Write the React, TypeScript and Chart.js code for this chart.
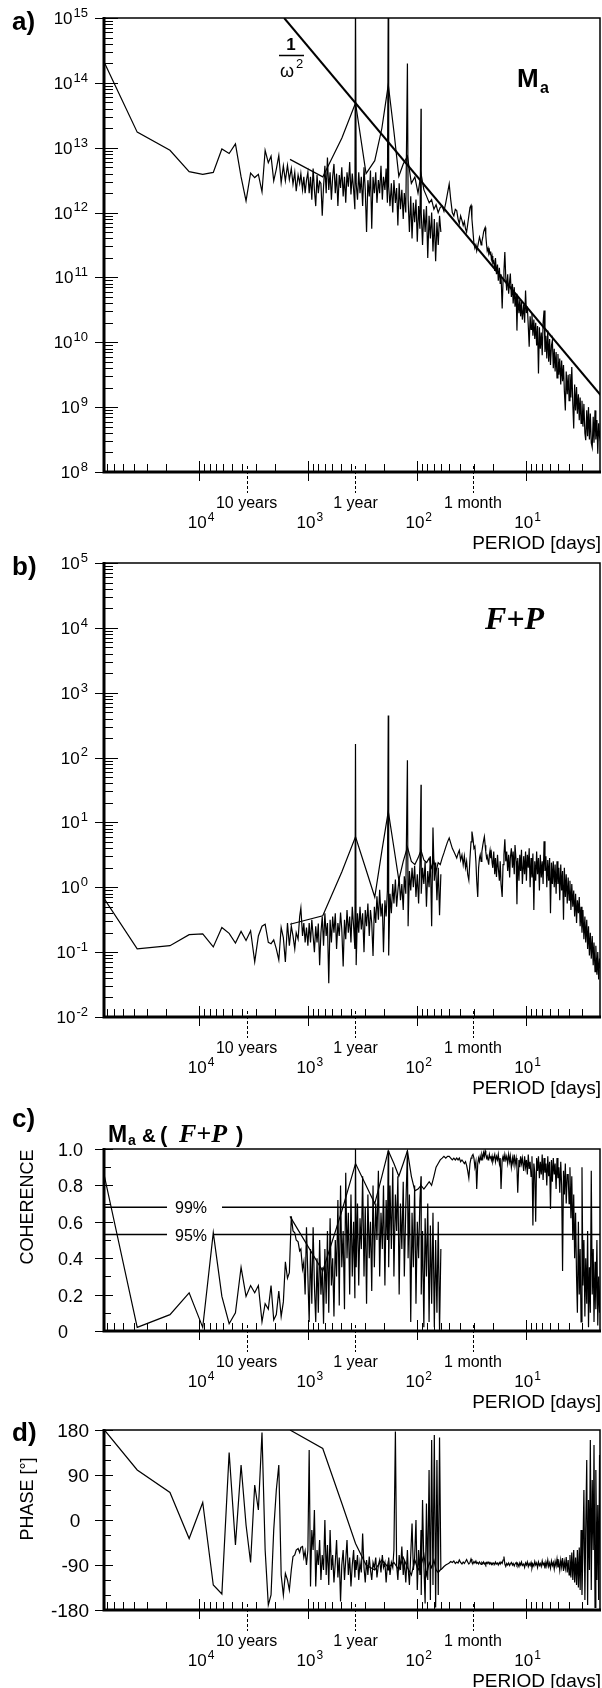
import React, { useEffect, useRef } from "react";
import { Chart, registerables } from "chart.js";

Chart.register(...registerables);

const PAGE_W = 602;
const PAGE_H = 1688;
const PLOT_LEFT = 104;
const PLOT_RIGHT = 600;
const PERIOD_MIN = 2.07;
const PERIOD_MAX = 74700;
const SANS = '"Liberation Sans", Arial, Helvetica, sans-serif';
const SERIF = '"Liberation Serif", "Times New Roman", Times, serif';

// ---------- period grids (days) ----------
const periodsHiSparse = [74000, 37000, 18500, 12330, 9250, 7400, 6170, 5290, 4630, 4110, 3700, 3360, 3080, 2850, 2640, 2470, 2310, 2180, 2060, 1950, 1850, 1760, 1680, 1610, 1540, 1480, 1420, 1370, 1320, 1280, 1230, 1190, 1160, 1120, 1090, 1060, 1030];
const periodsHiDense = [1000, 973, 946, 920, 895, 871, 847, 824, 802, 780, 759, 738, 718, 698, 679, 661, 643, 625, 608, 592, 576, 560, 545, 530, 515, 501, 488, 474, 461, 449, 437, 425, 413, 402, 391, 380, 370, 365.25, 360, 350, 341, 332, 323, 314, 305, 297, 289, 281, 273, 266, 259, 252, 245, 238, 232, 225, 219, 213, 207, 202, 196, 191, 186, 182.6, 181, 176, 171, 166, 162, 157, 153, 149, 145, 141, 137, 133, 130, 126, 121.75, 120, 116.7, 113.5, 110.4, 107.4, 104.5, 101.6, 98.8, 96.1, 93.5, 91.3, 90.9, 88.4, 86, 83.7, 81.4, 79.2, 77, 74.9, 72.9, 70.9, 68.9, 67, 65.2, 63.4, 61.7, 60];
const periodsLoA = [1460, 730, 487, 365, 292, 243, 209, 182.5, 162, 146, 133, 121.7, 112, 104, 97.3, 91.3, 85.9, 81.1, 76.8, 73, 69.5, 66.4, 63.5, 60.8];
const periodsLoB = [58.4, 56.2, 54.1, 52.1, 50.3, 48.7, 47.1, 45.6, 44.2, 42.9, 41.7, 40.6, 39.5, 38.4, 37.4, 36.5, 35.6, 34.8, 34.0, 33.2, 32.4, 31.7, 31.1, 30.4, 29.8, 29.2, 28.6, 28.1, 27.5, 27.0, 26.5, 26.1, 25.6, 25.2, 24.7, 24.3, 23.9, 23.5, 23.2, 22.8, 22.5, 22.1, 21.8, 21.5, 21.2, 20.9, 20.6, 20.3, 20.0];
const periodsLoC = [19.6, 19.2, 18.9, 18.5, 18.1, 17.8, 17.4, 17.1, 16.8, 16.4, 16.1, 15.8, 15.5, 15.2, 14.9, 14.6, 14.3, 14.0, 13.8, 13.5, 13.2, 13.0, 12.7, 12.5, 12.2, 12.0, 11.8, 11.5, 11.3, 11.1, 10.9, 10.7, 10.4, 10.2, 10.0, 9.82, 9.63, 9.44, 9.26, 9.08, 8.90, 8.73, 8.56, 8.39, 8.23, 8.07, 7.91, 7.76, 7.61, 7.46, 7.32, 7.17, 7.03, 6.90, 6.76, 6.63, 6.50, 6.38, 6.25, 6.13, 6.01, 5.90, 5.78, 5.67, 5.56, 5.45, 5.35, 5.24, 5.14, 5.04, 4.94, 4.85, 4.75, 4.66, 4.57, 4.48, 4.40, 4.31, 4.23, 4.14, 4.06, 3.98, 3.91, 3.83, 3.76, 3.68, 3.61, 3.54, 3.47, 3.40, 3.34, 3.27, 3.21, 3.15, 3.09, 3.03, 2.97, 2.91, 2.85, 2.80, 2.74, 2.69, 2.64, 2.59, 2.54, 2.49, 2.44, 2.39, 2.35, 2.30, 2.26, 2.21, 2.17, 2.13, 2.09, 2.05];

// ---------- panel a: M_a power (log10 of value) ----------
const maHiSparseExp = [14.31, 13.24, 12.96, 12.63, 12.59, 12.62, 12.98, 12.91, 13.06, 12.55, 12.18, 12.61, 12.54, 12.59, 12.32, 12.96, 12.77, 12.87, 12.49, 12.67, 12.88, 12.46, 12.72, 12.49, 12.73, 12.51, 12.68, 12.44, 12.62, 12.33, 12.58, 12.45, 12.60, 12.35, 12.55, 12.30, 12.50];
const maHiDenseExp = [12.62, 12.30, 12.55, 12.20, 12.68, 12.35, 12.10, 12.58, 12.30, 12.48, 12.45, 11.95, 12.40, 12.72, 12.30, 12.85, 12.35, 12.62, 12.20, 12.55, 12.75, 12.30, 12.60, 12.10, 12.58, 12.38, 12.70, 12.25, 12.55, 12.15, 12.62, 12.40, 12.78, 12.28, 12.60, 12.35, 12.05, 15.3, 12.45, 12.20, 12.62, 12.30, 12.55, 12.10, 12.70, 12.35, 11.70, 12.50, 12.25, 12.65, 11.75, 12.55, 12.30, 12.62, 12.15, 12.50, 12.30, 12.72, 12.20, 12.55, 12.35, 12.68, 12.15, 15.3, 12.40, 12.10, 12.45, 12.00, 12.50, 12.15, 12.38, 11.80, 12.45, 12.05, 12.35, 11.90, 12.30, 12.00, 14.3, 12.20, 11.70, 12.25, 11.60, 12.15, 11.85, 12.20, 11.55, 12.10, 11.75, 13.6, 12.00, 11.50, 12.05, 11.70, 12.10, 11.30, 11.95, 11.60, 12.00, 11.40, 11.90, 11.25, 11.85, 11.50, 11.95, 11.70];
const maLoAExp = [12.82, 12.55, 13.15, 13.69, 12.60, 12.80, 13.30, 13.97, 13.25, 12.56, 12.75, 12.87, 12.45, 12.55, 12.30, 12.60, 12.35, 12.25, 12.15, 12.20, 12.05, 12.12, 12.00, 12.08];
const maLoBExp = [12.10, 12.02, 12.15, 12.30, 12.44, 12.20, 12.00, 11.95, 12.05, 12.03, 11.90, 11.83, 11.95, 11.88, 11.80, 11.86, 11.75, 11.70, 11.82, 11.95, 12.08, 12.11, 11.90, 11.70, 11.52, 11.45, 11.50, 11.41, 11.48, 11.55, 11.62, 11.58, 11.50, 11.55, 11.62, 11.70, 11.74, 11.77, 11.65, 11.50, 11.41, 11.45, 11.38, 11.42, 11.35, 11.40, 11.28, 11.33, 11.22];
const maLoCExp = [11.25, 11.10, 11.30, 11.05, 11.20, 10.95, 11.15, 10.90, 11.05, 10.52, 10.95, 11.10, 11.39, 11.00, 10.80, 11.05, 10.75, 10.95, 11.06, 10.70, 10.90, 10.60, 10.85, 10.55, 10.75, 10.18, 10.70, 10.45, 10.65, 10.40, 10.62, 10.35, 10.58, 10.30, 10.80, 10.45, 10.55, 10.25, 9.93, 10.40, 10.20, 10.44, 10.10, 10.35, 10.05, 10.30, 9.95, 10.25, 9.52, 10.23, 9.90, 10.15, 9.80, 10.30, 10.49, 9.85, 10.10, 9.75, 10.18, 9.70, 10.05, 9.65, 9.95, 10.03, 9.60, 9.90, 9.55, 9.85, 9.45, 9.82, 9.50, 9.75, 9.35, 9.72, 9.40, 9.65, 9.25, 8.95, 9.55, 9.20, 9.50, 9.10, 9.51, 9.15, 9.62, 9.05, 8.67, 9.35, 8.95, 9.31, 8.90, 9.20, 8.80, 9.15, 8.75, 9.10, 8.70, 9.05, 8.60, 8.49, 8.95, 8.55, 9.00, 8.50, 8.90, 8.45, 8.38, 8.85, 8.45, 8.95, 8.50, 8.80, 8.28, 8.75, 8.55, 8.64];
const omegaPeriods = [1652, 2];
const omegaValues = [1.0e15, 1.466e9];

// ---------- panel b: F+P power (log10 of value) ----------
const fpHiSparseExp = [-0.18, -0.95, -0.90, -0.73, -0.72, -0.92, -0.62, -0.71, -0.86, -0.68, -0.82, -0.67, -1.15, -0.75, -0.60, -0.57, -0.85, -0.87, -0.81, -0.95, -1.12, -0.62, -0.78, -1.15, -0.55, -0.90, -0.60, -0.75, -0.95, -0.70, -0.80, -0.45, -0.32, -0.75, -0.55, -0.85, -0.62];
const fpHiDenseExp = [-0.90, -0.55, -0.85, -0.50, -0.75, -1.00, -0.60, -0.85, -0.56, -1.20, -0.70, -0.45, -0.90, -0.40, -0.75, -0.55, -1.48, -0.50, -0.85, -0.45, -0.70, -0.40, -0.95, -0.55, -0.75, -0.39, -0.65, -1.22, -0.50, -0.80, -0.35, -0.70, -0.45, -0.85, -0.30, -0.60, -0.95, 2.21, -1.20, -0.40, -0.70, -0.30, -0.65, -0.40, -1.00, -0.35, -0.60, -0.25, -0.75, -0.35, -0.55, -1.06, -0.30, -0.55, -0.14, -0.50, -0.04, -0.45, -0.25, -1.00, -0.20, -0.45, -0.05, 2.65, -1.05, -0.10, -0.40, 0.05, -0.25, 0.12, -0.30, -0.05, 0.15, -0.20, 0.05, -0.35, 0.17, -0.10, 1.96, -0.60, 0.25, -0.05, 0.30, 0.00, 0.33, -0.15, 0.20, -0.25, 0.35, 1.58, -0.10, 0.30, 0.05, 0.40, -0.30, 0.25, 0.00, 0.48, -0.60, 0.92, 0.10, 0.38, -0.20, 0.30, -0.43, 0.20];
const fpLoAExp = [-0.57, -0.44, 0.24, 0.78, 0.27, -0.15, 0.56, 1.17, 0.61, 0.11, 0.40, 0.62, 0.40, 0.35, 0.45, 0.57, 0.42, 0.38, 0.45, 0.30, 0.40, 0.25, 0.38, 0.35];
const fpLoBExp = [0.45, 0.53, 0.62, 0.70, 0.76, 0.68, 0.60, 0.55, 0.50, 0.45, 0.52, 0.57, 0.42, 0.50, 0.35, 0.48, 0.30, 0.40, 0.20, 0.11, 0.45, 0.70, 0.86, 0.75, 0.60, 0.63, 0.40, 0.10, -0.15, 0.30, 0.45, 0.50, 0.40, 0.55, 0.65, 0.72, 0.78, 0.65, 0.55, 0.45, 0.48, 0.40, 0.35, 0.50, 0.57, 0.45, 0.52, 0.38, 0.30];
const fpLoCExp = [0.55, 0.20, 0.45, 0.16, 0.50, 0.30, 0.10, 0.40, 0.05, -0.15, 0.35, 0.50, 0.74, 0.40, 0.55, 0.25, 0.50, 0.15, 0.45, 0.60, 0.30, 0.55, 0.20, 0.65, 0.40, -0.26, 0.45, 0.10, 0.50, 0.25, 0.58, 0.05, 0.48, 0.20, 0.55, 0.10, 0.50, 0.30, 0.60, 0.00, 0.45, 0.15, 0.52, -0.35, 0.40, 0.10, 0.55, 0.20, 0.45, -0.05, 0.50, 0.15, 0.40, 0.05, 0.71, 0.25, 0.48, 0.00, 0.42, 0.10, 0.45, -0.40, 0.38, 0.05, 0.40, 0.00, 0.35, -0.10, 0.40, 0.05, 0.30, -0.20, 0.35, -0.05, 0.25, -0.50, 0.30, -0.15, 0.20, -0.25, 0.15, -0.20, 0.10, -0.35, 0.05, -0.30, -0.05, -0.45, -0.10, -0.55, -0.20, -0.40, -0.15, -0.60, -0.30, -0.70, -0.35, -0.80, -0.45, -0.85, -0.50, -0.95, -0.60, -1.05, -0.70, -1.10, -0.75, -1.20, -0.85, -1.30, -0.90, -1.35, -1.00, -1.42, -1.10, -1.25];

// ---------- panel c: coherence ----------
const cohHiSparse = [0.85, 0.02, 0.09, 0.21, 0.02, 0.54, 0.19, 0.04, 0.10, 0.35, 0.19, 0.25, 0.21, 0.25, 0.05, 0.15, 0.12, 0.25, 0.06, 0.09, 0.22, 0.08, 0.16, 0.38, 0.29, 0.32, 0.63, 0.55, 0.54, 0.50, 0.49, 0.44, 0.45, 0.34, 0.38, 0.20, 0.57];
const cohHiDense = [0.30, 0.05, 0.45, 0.15, 0.57, 0.25, 0.05, 0.40, 0.10, 0.50, 0.20, 0.35, 0.04, 0.45, 0.15, 0.55, 0.10, 0.62, 0.25, 0.40, 0.08, 0.50, 0.30, 0.72, 0.14, 0.80, 0.35, 0.55, 0.12, 0.87, 0.40, 0.65, 0.20, 0.75, 0.30, 0.60, 0.18, 1.00, 0.35, 0.70, 0.25, 0.62, 0.45, 0.85, 0.30, 0.68, 0.15, 0.75, 0.40, 0.60, 0.22, 0.80, 0.35, 0.70, 0.50, 0.88, 0.30, 0.65, 0.45, 0.80, 0.25, 0.72, 0.50, 0.99, 0.35, 0.80, 0.45, 0.90, 0.30, 0.75, 0.55, 0.85, 0.20, 0.70, 0.45, 0.82, 0.30, 0.68, 0.99, 0.40, 0.75, 0.05, 0.65, 0.35, 0.80, 0.15, 0.60, 0.40, 0.72, 0.85, 0.20, 0.55, 0.02, 0.62, 0.30, 0.70, 0.05, 0.58, 0.15, 0.65, 0.02, 0.50, 0.10, 0.60, 0.00, 0.45];
const cohLoA = [0.63, 0.33, 0.66, 0.92, 0.80, 0.70, 0.85, 0.99, 0.92, 0.85, 0.92, 0.99, 0.85, 0.77, 0.78, 0.80, 0.78, 0.80, 0.82, 0.80, 0.85, 0.90, 0.92, 0.94];
const cohLoB = [0.95, 0.96, 0.95, 0.96, 0.96, 0.95, 0.94, 0.95, 0.94, 0.95, 0.94, 0.95, 0.93, 0.94, 0.93, 0.92, 0.93, 0.91, 0.88, 0.84, 0.92, 0.95, 0.96, 0.97, 0.95, 0.90, 0.93, 0.78, 0.92, 0.95, 0.93, 0.96, 0.94, 0.97, 0.95, 0.98, 0.96, 0.99, 0.97, 0.95, 0.96, 0.94, 0.95, 0.97, 0.95, 0.96, 0.94, 0.96, 0.93];
const cohLoC = [0.95, 0.97, 0.93, 0.96, 0.94, 0.97, 0.92, 0.95, 0.78, 0.94, 0.96, 0.93, 0.97, 0.94, 0.96, 0.92, 0.97, 0.93, 0.96, 0.90, 0.95, 0.92, 0.97, 0.91, 0.95, 0.90, 0.76, 0.94, 0.90, 0.96, 0.92, 0.95, 0.88, 0.96, 0.90, 0.94, 0.86, 0.97, 0.89, 0.93, 0.85, 0.96, 0.58, 0.92, 0.87, 0.60, 0.95, 0.88, 0.96, 0.84, 0.93, 0.86, 0.97, 0.83, 0.95, 0.87, 0.92, 0.80, 0.96, 0.85, 0.93, 0.67, 0.94, 0.82, 0.95, 0.86, 0.92, 0.78, 0.95, 0.84, 0.90, 0.76, 0.93, 0.80, 0.33, 0.88, 0.75, 0.92, 0.70, 0.86, 0.86, 0.70, 0.90, 0.62, 0.85, 0.50, 0.75, 0.40, 0.65, 0.30, 0.10, 0.60, 0.20, 0.45, 0.05, 0.90, 0.25, 0.50, 0.08, 0.40, 0.15, 0.55, 0.02, 0.35, 0.10, 0.88, 0.20, 0.45, 0.05, 0.38, 0.12, 0.50, 0.03, 0.30, 0.10, 0.25];
const confidence99 = 0.68;
const confidence95 = 0.53;

// ---------- panel d: phase (degrees) ----------
const phHiSparse = [180, 100, 55, -37, 35, -130, -148, 135, -50, 110, -10, -85, 70, 20, 175, -60, -170, -150, -20, 60, 110, -110, -150, -107, -120, -140, -100, -73, -70, -60, -57, -65, -55, -53, -75, -62, -90];
const phHiDense = [-60, 140, -133, -20, -60, 20, -133, -60, -90, -40, -120, -70, -100, 0, -110, -50, -130, -20, -100, -70, -125, -85, -40, -115, -75, -163, -90, -60, -120, -80, -40, -110, -75, -133, -90, -60, -115, -80, -100, -70, -120, -85, -105, -27, -95, -125, -80, -110, -73, -100, -120, -85, -95, -75, -115, -90, -80, -105, -70, -95, -85, -125, -90, -100, -75, -110, -85, -95, -60, 177, -90, -120, -70, -100, -53, -110, -80, -125, -60, -95, -130, -70, -7, -100, -75, 0, -140, -60, -110, -20, -150, 40, -90, -167, 33, -120, 100, -160, 160, -130, 170, -175, 120, -150, 165, -100];
const phLoA = [180, 143, 33, -47, -90, -100, -80, -95, -85, -100, -75, -95, -110, -80, -100, -90, -70, -110, -85, -95, -80, -100, -105, -100];
const phLoB = [-97, -93, -90, -88, -86, -83, -85, -82, -87, -84, -86, -80, -85, -88, -84, -87, -83, -79, -84, -88, -85, -78, -84, -87, -83, -86, -82, -87, -85, -88, -84, -86, -89, -85, -87, -84, -88, -86, -89, -85, -87, -84, -86, -88, -85, -87, -89, -86, -88];
const phLoC = [-86, -89, -84, -88, -86, -90, -85, -88, -84, -87, -80, -73, -88, -93, -87, -90, -86, -91, -88, -85, -90, -87, -92, -88, -85, -90, -87, -93, -86, -90, -84, -91, -88, -95, -86, -90, -84, -93, -87, -91, -85, -96, -88, -92, -83, -90, -86, -95, -84, -91, -87, -93, -82, -90, -86, -97, -84, -92, -80, -93, -86, -96, -82, -91, -85, -98, -83, -92, -78, -95, -85, -100, -80, -94, -76, -102, -84, -97, -74, -105, -80, -110, -70, -115, -65, -120, -60, -125, -75, -130, -60, -135, -55, -140, -20, -150, -60, 60, -160, -20, 120, -170, 40, -100, 160, -140, 80, -60, 150, -175, 100, -120, 30, -160, 130, -90];

// ---------- axis labels ----------
const specialPeriods = [3652.5, 365.25, 30.44];
const specialLabels = ["10 years", "1 year", "1 month"];
const decadePeriods = [10000, 1000, 100, 10];
const decadeExps = ["4", "3", "2", "1"];

type Pt = { x: number; y: number };
const pow10 = (e: number) => Math.pow(10, e);
function zip(ps: number[], vs: number[], f: (v: number) => number = (v) => v): Pt[] {
  const n = Math.min(ps.length, vs.length);
  const out: Pt[] = [];
  for (let i = 0; i < n; i++) out.push({ x: ps[i], y: f(vs[i]) });
  return out;
}
const hiPeriods = [...periodsHiSparse, ...periodsHiDense];
const loPeriods = [...periodsLoA, ...periodsLoB, ...periodsLoC];

function drawPow(ctx: CanvasRenderingContext2D, base: string, exp: string, x: number, y: number, align: "right" | "center", bs: number, es: number) {
  ctx.font = `${bs}px ${SANS}`;
  const wb = ctx.measureText(base).width;
  ctx.font = `${es}px ${SANS}`;
  const we = ctx.measureText(exp).width;
  const tot = wb + 1 + we;
  const x0 = align === "right" ? x - tot : x - tot / 2;
  ctx.textAlign = "left";
  ctx.textBaseline = "alphabetic";
  ctx.font = `${bs}px ${SANS}`;
  ctx.fillText(base, x0, y);
  ctx.font = `${es}px ${SANS}`;
  ctx.fillText(exp, x0 + wb + 1, y - bs * 0.42);
}

type PanelDef = {
  id: string;
  top: number;
  bottom: number;
  yType: "logarithmic" | "linear";
  yMin: number;
  yMax: number;
  series: { data: Pt[]; width: number }[];
  letter: string;
  letterY: number;
  extra: (ctx: CanvasRenderingContext2D, chart: any) => void;
};

const PANELS: PanelDef[] = [
  {
    id: "a",
    top: 18,
    bottom: 472,
    yType: "logarithmic",
    yMin: 1e8,
    yMax: 1e15,
    letter: "a)",
    letterY: 30,
    series: [
      { data: zip(hiPeriods, [...maHiSparseExp, ...maHiDenseExp], pow10), width: 1.2 },
      { data: zip(loPeriods, [...maLoAExp, ...maLoBExp, ...maLoCExp], pow10), width: 1.2 },
      { data: zip(omegaPeriods, omegaValues), width: 2 },
    ],
    extra: (ctx) => {
      ctx.textAlign = "left";
      ctx.font = `bold 26px ${SANS}`;
      ctx.fillText("M", 517, 87);
      ctx.font = `bold 16px ${SANS}`;
      ctx.fillText("a", 540, 93);
      ctx.font = `bold 17px ${SANS}`;
      ctx.textAlign = "center";
      ctx.fillText("1", 291, 50);
      ctx.lineWidth = 1.5;
      ctx.beginPath();
      ctx.moveTo(279, 55.5);
      ctx.lineTo(304, 55.5);
      ctx.stroke();
      ctx.textAlign = "left";
      ctx.font = `18px ${SANS}`;
      ctx.fillText("\u03c9", 280, 77);
      ctx.font = `13px ${SANS}`;
      ctx.fillText("2", 296, 68);
    },
  },
  {
    id: "b",
    top: 563,
    bottom: 1017,
    yType: "logarithmic",
    yMin: 1e-2,
    yMax: 1e5,
    letter: "b)",
    letterY: 575,
    series: [
      { data: zip(hiPeriods, [...fpHiSparseExp, ...fpHiDenseExp], pow10), width: 1.2 },
      { data: zip(loPeriods, [...fpLoAExp, ...fpLoBExp, ...fpLoCExp], pow10), width: 1.2 },
    ],
    extra: (ctx) => {
      ctx.textAlign = "left";
      ctx.font = `italic bold 32px ${SERIF}`;
      ctx.fillText("F+P", 485, 629);
    },
  },
  {
    id: "c",
    top: 1149,
    bottom: 1331,
    yType: "linear",
    yMin: 0,
    yMax: 1,
    letter: "c)",
    letterY: 1127,
    series: [
      { data: zip(hiPeriods, [...cohHiSparse, ...cohHiDense]), width: 1.2 },
      { data: zip(loPeriods, [...cohLoA, ...cohLoB, ...cohLoC]), width: 1.2 },
    ],
    extra: (ctx, chart) => {
      const ys = chart.scales.y;
      const { left, right } = chart.chartArea;
      const y99 = ys.getPixelForValue(confidence99);
      const y95 = ys.getPixelForValue(confidence95);
      ctx.lineWidth = 1.5;
      ctx.beginPath();
      ctx.moveTo(left, y99);
      ctx.lineTo(167, y99);
      ctx.moveTo(222, y99);
      ctx.lineTo(right, y99);
      ctx.moveTo(left, y95);
      ctx.lineTo(167, y95);
      ctx.moveTo(213, y95);
      ctx.lineTo(right, y95);
      ctx.stroke();
      ctx.font = `16px ${SANS}`;
      ctx.textAlign = "left";
      ctx.fillText("99%", 175, y99 + 6);
      ctx.fillText("95%", 175, y95 + 6);
      // title
      ctx.font = `bold 23px ${SANS}`;
      ctx.fillText("M", 108, 1142);
      ctx.font = `bold 14px ${SANS}`;
      ctx.fillText("a", 128, 1145);
      ctx.font = `bold 19px ${SANS}`;
      ctx.fillText("&", 142, 1142);
      ctx.font = `bold 22px ${SANS}`;
      ctx.fillText("(", 160, 1142);
      ctx.fillText(")", 236, 1142);
      ctx.font = `italic bold 26px ${SERIF}`;
      ctx.fillText("F+P", 179, 1142);
      // y title
      ctx.save();
      ctx.translate(28, 1207);
      ctx.rotate(-Math.PI / 2);
      ctx.textAlign = "center";
      ctx.textBaseline = "middle";
      ctx.font = `18px ${SANS}`;
      ctx.fillText("COHERENCE", 0, 0);
      ctx.restore();
    },
  },
  {
    id: "d",
    top: 1430,
    bottom: 1610,
    yType: "linear",
    yMin: -180,
    yMax: 180,
    letter: "d)",
    letterY: 1441,
    series: [
      { data: zip(hiPeriods, [...phHiSparse, ...phHiDense]), width: 1.2 },
      { data: zip(loPeriods, [...phLoA, ...phLoB, ...phLoC]), width: 1.2 },
    ],
    extra: (ctx) => {
      ctx.save();
      ctx.translate(28, 1499);
      ctx.rotate(-Math.PI / 2);
      ctx.textAlign = "center";
      ctx.textBaseline = "middle";
      ctx.font = `18px ${SANS}`;
      ctx.fillText("PHASE [\u00b0]", 0, 0);
      ctx.restore();
    },
  },
];

function decorate(chart: any, p: PanelDef) {
  const ctx: CanvasRenderingContext2D = chart.ctx;
  const xs = chart.scales.x;
  const ys = chart.scales.y;
  const { left, right, top, bottom } = chart.chartArea;
  ctx.save();
  ctx.strokeStyle = "#000";
  ctx.fillStyle = "#000";

  // x ticks
  ctx.lineWidth = 1;
  ctx.beginPath();
  for (const d of [1, 10, 100, 1000, 10000]) {
    for (let m = 1; m <= 9; m++) {
      const v = m * d;
      if (v < PERIOD_MIN || v > PERIOD_MAX) continue;
      const px = Math.round(xs.getPixelForValue(v)) + 0.5;
      if (m === 1) {
        ctx.moveTo(px, bottom - 11);
        ctx.lineTo(px, bottom + 9);
      } else {
        ctx.moveTo(px, bottom - 8);
        ctx.lineTo(px, bottom);
      }
    }
  }
  ctx.stroke();
  ctx.setLineDash([3, 2]);
  ctx.beginPath();
  for (const v of specialPeriods) {
    const px = Math.round(xs.getPixelForValue(v)) + 0.5;
    ctx.moveTo(px, bottom - 6);
    ctx.lineTo(px, bottom + 21);
  }
  ctx.stroke();
  ctx.setLineDash([]);

  // y ticks
  ctx.lineWidth = 1;
  ctx.beginPath();
  if (p.yType === "logarithmic") {
    const e0 = Math.round(Math.log10(p.yMin));
    const e1 = Math.round(Math.log10(p.yMax));
    for (let e = e0; e <= e1; e++) {
      for (let m = 1; m <= 9; m++) {
        const v = m * Math.pow(10, e);
        if (v > p.yMax * 1.0001) continue;
        const py = Math.round(ys.getPixelForValue(v)) + 0.5;
        if (m === 1) {
          ctx.moveTo(left - 9, py);
          ctx.lineTo(left + 14, py);
        } else {
          ctx.moveTo(left, py);
          ctx.lineTo(left + 9, py);
        }
      }
    }
  } else if (p.id === "c") {
    for (let i = 0; i <= 10; i++) {
      const py = Math.round(ys.getPixelForValue(i / 10)) + 0.5;
      if (i % 2 === 0) {
        ctx.moveTo(left - 9, py);
        ctx.lineTo(left + 9, py);
      } else {
        ctx.moveTo(left, py);
        ctx.lineTo(left + 7, py);
      }
    }
  } else {
    for (let v = -180; v <= 180; v += 30) {
      const py = Math.round(ys.getPixelForValue(v)) + 0.5;
      if (v % 90 === 0) {
        ctx.moveTo(left - 9, py);
        ctx.lineTo(left + 9, py);
      } else {
        ctx.moveTo(left, py);
        ctx.lineTo(left + 7, py);
      }
    }
  }
  ctx.stroke();

  // frame
  ctx.lineWidth = 1.5;
  ctx.beginPath();
  ctx.moveTo(left, top);
  ctx.lineTo(right, top);
  ctx.lineTo(right, bottom);
  ctx.stroke();
  ctx.lineWidth = 3;
  ctx.beginPath();
  ctx.moveTo(left, top - 1);
  ctx.lineTo(left, bottom);
  ctx.lineTo(right + 1, bottom);
  ctx.stroke();

  // y labels
  ctx.textBaseline = "alphabetic";
  if (p.yType === "logarithmic") {
    const e0 = Math.round(Math.log10(p.yMin));
    const e1 = Math.round(Math.log10(p.yMax));
    for (let e = e0; e <= e1; e++) {
      const py = ys.getPixelForValue(Math.pow(10, e));
      drawPow(ctx, "10", String(e), 88, py + 6, "right", 17, 13);
    }
  } else if (p.id === "c") {
    ctx.font = `18px ${SANS}`;
    ctx.textAlign = "left";
    const labs = ["0", "0.2", "0.4", "0.6", "0.8", "1.0"];
    labs.forEach((t, i) => ctx.fillText(t, 58, ys.getPixelForValue(i * 0.2) + 7));
  } else {
    ctx.font = `19px ${SANS}`;
    const vals = [-180, -90, 0, 90, 180];
    vals.forEach((v) => {
      const py = ys.getPixelForValue(v) + 7;
      if (v === 0) {
        ctx.textAlign = "center";
        ctx.fillText("0", 75, py);
      } else {
        ctx.textAlign = "right";
        ctx.fillText(String(v), 89, py);
      }
    });
  }

  // x labels
  ctx.font = `16px ${SANS}`;
  ctx.textAlign = "center";
  specialPeriods.forEach((v, i) => {
    ctx.fillText(specialLabels[i], xs.getPixelForValue(v), bottom + 36);
  });
  decadePeriods.forEach((v, i) => {
    drawPow(ctx, "10", decadeExps[i], xs.getPixelForValue(v) + 2, bottom + 56, "center", 17, 12);
  });
  ctx.font = `19px ${SANS}`;
  ctx.textAlign = "right";
  ctx.fillText("PERIOD [days]", 601, bottom + 77);

  // panel letter
  ctx.font = `bold 26px ${SANS}`;
  ctx.textAlign = "left";
  ctx.fillText(p.letter, 12, p.letterY);

  p.extra(ctx, chart);
  ctx.restore();
}

function PanelChart({ panel }: { panel: PanelDef }) {
  const ref = useRef<HTMLCanvasElement | null>(null);
  useEffect(() => {
    const canvas = ref.current;
    if (!canvas) return;
    const chart = new Chart(canvas, {
      type: "scatter",
      data: {
        datasets: panel.series.map((s) => ({
          data: s.data,
          showLine: true,
          borderColor: "#000",
          backgroundColor: "#000",
          borderWidth: s.width,
          pointRadius: 0,
          pointHoverRadius: 0,
          tension: 0,
        })),
      },
      options: {
        animation: false,
        responsive: false,
        maintainAspectRatio: false,
        devicePixelRatio: 1,
        events: [],
        layout: {
          padding: {
            left: PLOT_LEFT,
            right: PAGE_W - PLOT_RIGHT,
            top: panel.top,
            bottom: PAGE_H - panel.bottom,
          },
        },
        scales: {
          x: { type: "logarithmic", reverse: true, min: PERIOD_MIN, max: PERIOD_MAX, display: false },
          y: { type: panel.yType, min: panel.yMin, max: panel.yMax, display: false },
        },
        plugins: {
          legend: { display: false },
          tooltip: { enabled: false },
        },
      } as any,
      plugins: [
        {
          id: "decor-" + panel.id,
          afterDraw: (c: any) => decorate(c, panel),
        },
      ],
    });
    return () => chart.destroy();
  }, [panel]);
  return (
    <canvas
      ref={ref}
      width={PAGE_W}
      height={PAGE_H}
      style={{ position: "absolute", left: 0, top: 0, width: PAGE_W, height: PAGE_H }}
    />
  );
}

export default function App() {
  useEffect(() => {
    document.body.style.margin = "0";
    document.documentElement.style.overflow = "hidden";
  }, []);
  return (
    <div
      style={{
        position: "absolute",
        left: 0,
        top: 0,
        width: PAGE_W,
        height: PAGE_H,
        background: "#fff",
        overflow: "hidden",
      }}
    >
      {PANELS.map((p) => (
        <PanelChart key={p.id} panel={p} />
      ))}
    </div>
  );
}
